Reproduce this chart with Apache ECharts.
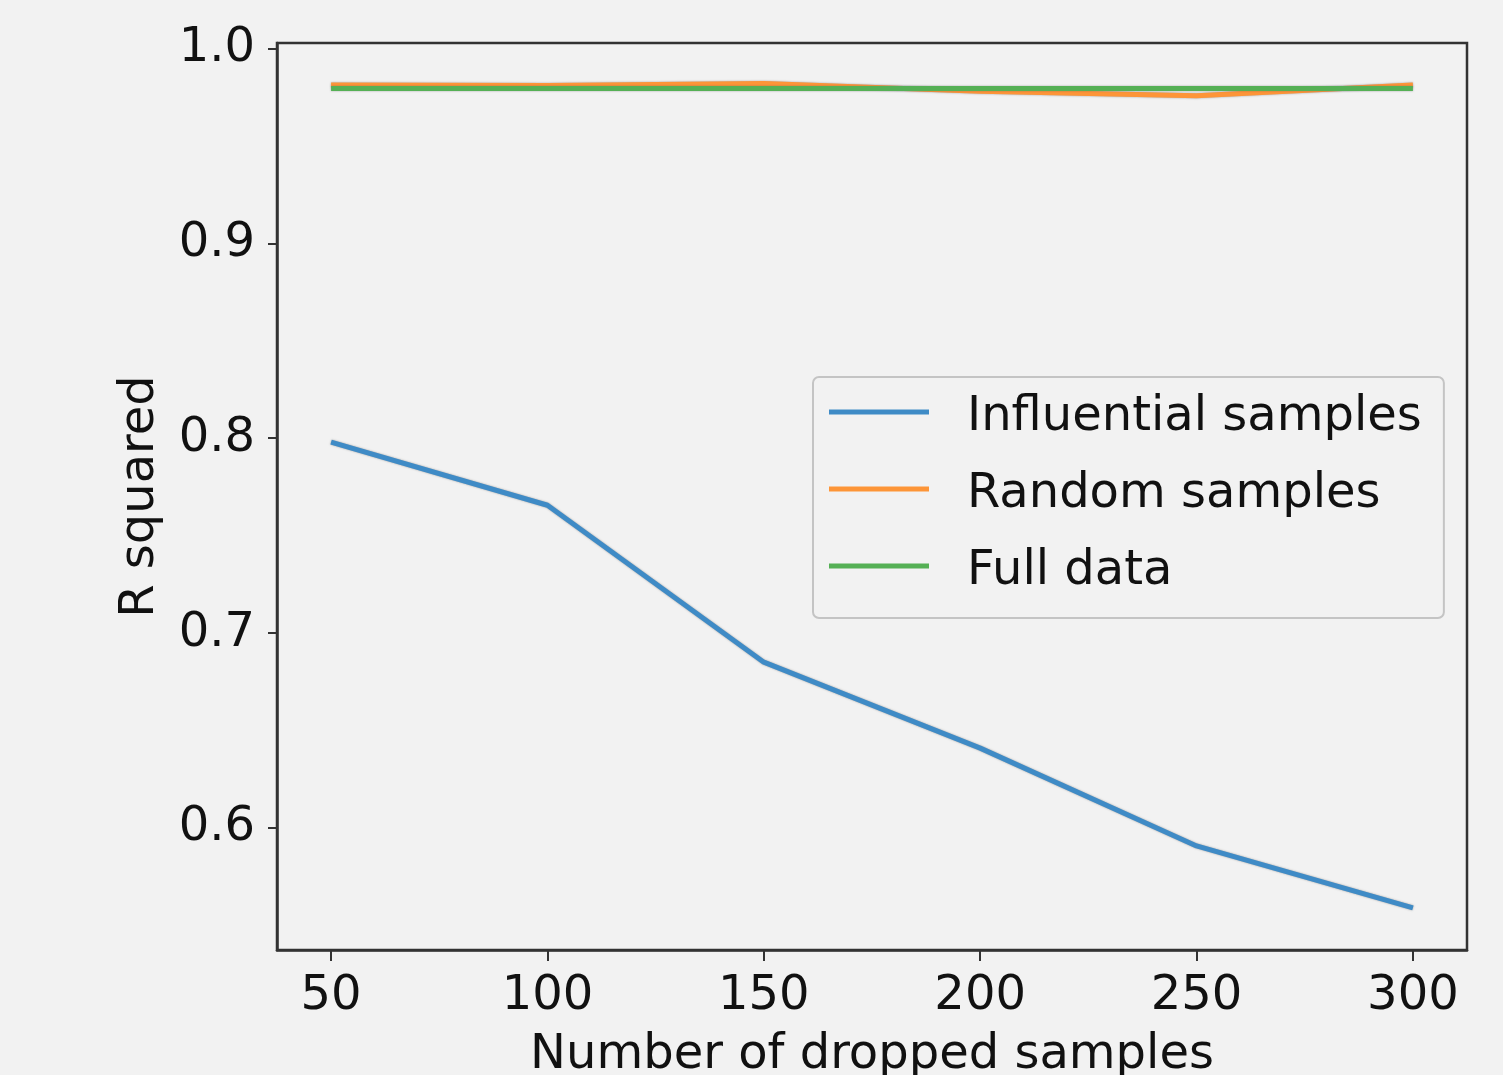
<!DOCTYPE html>
<html>
<head>
<meta charset="utf-8">
<script src="https://cdn.jsdelivr.net/npm/echarts@6/dist/echarts.min.js"></script>
<style>
html,body{margin:0;padding:0;background:#f2f2f2;}
#chart{width:1503px;height:1075px;}
</style>
</head>
<body>
<div id="chart"></div>
<script>
const droppedSamples = [50, 100, 150, 200, 250, 300];
const influentialSamples = [0.798, 0.7656, 0.6851, 0.641, 0.5908, 0.559];
const randomSamples = [0.9812, 0.9810, 0.9820, 0.9780, 0.9757, 0.9812];
const fullData = [0.9795, 0.9795, 0.9795, 0.9795, 0.9795, 0.9795];
const xTicks = [50, 100, 150, 200, 250, 300];
const yTicks = [0.6, 0.7, 0.8, 0.9, 1.0];
const seriesNames = ['Influential samples', 'Random samples', 'Full data'];
const colors = ['#3f8bc6', '#fd9538', '#55b055'];

const pairs = arr => droppedSamples.map((x, i) => [x, arr[i]]);
const font = '"DejaVu Sans", "Noto Sans", sans-serif';
const lineStyleFor = c => ({color: c, width: 5, shadowColor: 'rgba(90,90,90,0.55)', shadowBlur: 2});

const chart = echarts.init(document.getElementById('chart'), null, {renderer: 'canvas'});
chart.setOption({
  backgroundColor: '#f2f2f2',
  animation: false,
  grid: {
    left: 277, right: 36, top: 43, bottom: 125,
    outerBoundsMode: 'none', containLabel: false,
    show: true, borderColor: '#333', borderWidth: 2.5, backgroundColor: '#f2f2f2'
  },
  legend: {
    orient: 'vertical',
    left: 813, top: 377,
    padding: [5, 22, 22, 16],
    itemGap: 17,
    itemWidth: 100, itemHeight: 5,
    backgroundColor: '#f2f2f2',
    borderColor: '#c4c4c4', borderWidth: 2, borderRadius: 6,
    data: seriesNames.map(n => ({name: n, icon: 'rect'})),
    formatter: '{t|{name}}',
    textStyle: {
      fontFamily: font, fontSize: 48, color: '#111',
      rich: {t: {fontFamily: font, fontSize: 48, color: '#111', lineHeight: 56, padding: [12, 0, 0, 33]}}
    }
  },
  xAxis: {
    type: 'value', min: 37.5, max: 312.5,
    name: 'Number of dropped samples', nameLocation: 'middle', nameGap: 82,
    nameTextStyle: {fontFamily: font, fontSize: 48, color: '#111'},
    axisLine: {show: true, onZero: false, lineStyle: {color: '#333', width: 2.5}},
    axisTick: {show: true, length: 11, customValues: xTicks, lineStyle: {color: '#333', width: 2}},
    axisLabel: {customValues: xTicks, margin: 23, fontFamily: font, fontSize: 48, color: '#111'},
    splitLine: {show: false}
  },
  yAxis: {
    type: 'value', min: 0.5374, max: 1.0028,
    name: 'R squared', nameLocation: 'middle', nameGap: 112, nameRotate: 90,
    nameTextStyle: {fontFamily: font, fontSize: 48, color: '#111'},
    axisLine: {show: true, onZero: false, lineStyle: {color: '#333', width: 2.5}},
    axisTick: {show: true, length: 9, customValues: yTicks, lineStyle: {color: '#333', width: 2}},
    axisLabel: {customValues: yTicks, margin: 22, fontFamily: font, fontSize: 48, color: '#111',
      formatter: v => v.toFixed(1)},
    splitLine: {show: false}
  },
  series: [
    {name: seriesNames[0], type: 'line', data: pairs(influentialSamples), showSymbol: false, symbol: 'none',
      itemStyle: {color: colors[0]}, lineStyle: lineStyleFor(colors[0])},
    {name: seriesNames[1], type: 'line', data: pairs(randomSamples), showSymbol: false, symbol: 'none',
      itemStyle: {color: colors[1]}, lineStyle: lineStyleFor(colors[1])},
    {name: seriesNames[2], type: 'line', data: pairs(fullData), showSymbol: false, symbol: 'none',
      itemStyle: {color: colors[2]}, lineStyle: lineStyleFor(colors[2])}
  ]
});
</script>
</body>
</html>
